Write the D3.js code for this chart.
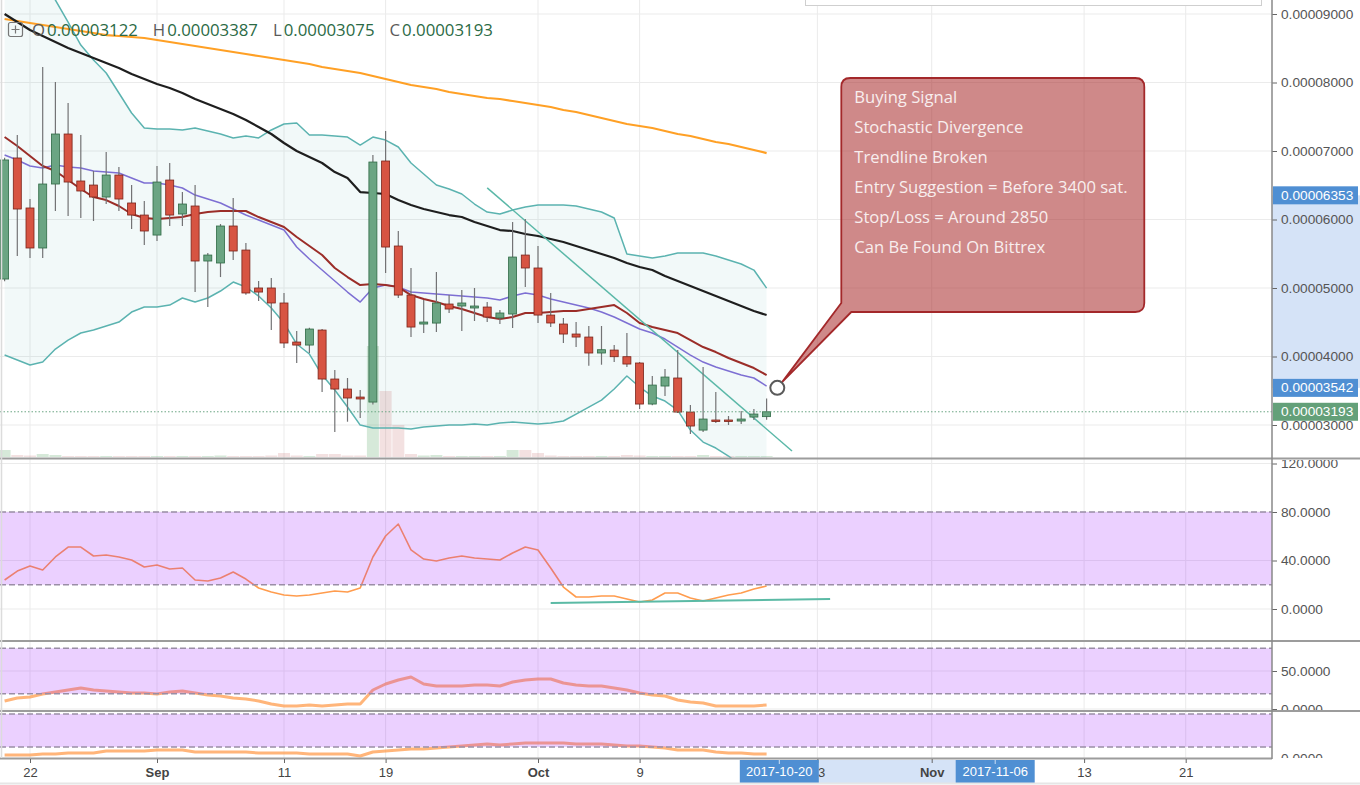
<!DOCTYPE html>
<html><head><meta charset="utf-8">
<script src="https://cdnjs.cloudflare.com/ajax/libs/d3/7.8.5/d3.min.js"></script>
<style>
html,body{margin:0;padding:0;background:#fff;overflow:hidden;}
svg{display:block;}
</style></head>
<body><svg id="chart" width="1360" height="785"></svg>
<script>
// ---------------- DATA (prices in 1e-8 BTC) ----------------
const firstDay = "2017-08-20";
const opens  = [5131,6898,6168,5584,6518,7248,6562,6503,6328,6649,6241,6065,5773,6576,6080,6197,5394,5365,5905,5554,5000,5000,4781,4211,4167,4386,3671,3525,3408,3335,6854,5613,4897,4474,4488,4766,4737,4708,4722,4562,4620,5481,5292,4605,4474,4328,4284,4051,4094,3997,3905,3306,3569,3686,3189,2926,3073,3073,3058,3116,3122];
const highs  = [6900,7234,6299,8226,8007,7701,7233,6708,6985,6766,6503,6270,6781,6825,6401,6503,5511,5934,6314,5657,5102,5146,4927,4372,4420,4400,3802,3686,3510,6941,7292,5832,5292,4824,5233,4897,4970,5000,4795,4678,5963,6007,5613,4927,4562,4503,4445,4445,4167,4343,3920,3715,3817,4094,3291,3846,3481,3131,3204,3233,3387];
const lows   = [5100,5467,5438,5438,6124,6051,6022,5978,6226,6124,5861,5627,5686,5905,5905,4941,4722,5160,5408,4900,4810,4386,4124,3905,4051,3481,2897,3048,3102,3300,5219,4854,4284,4343,4357,4635,4372,4518,4503,4474,4416,5014,4489,4430,4197,4138,3865,3880,3919,3846,3233,3290,3423,3175,2868,2897,3029,3000,3014,3073,3075];
const closes = [6869,6153,5584,6518,7248,6547,6416,6328,6649,6299,6065,5832,6547,6065,6226,5394,5481,5905,5540,4927,4941,4781,4197,4167,4401,3671,3525,3394,3380,6839,5598,4897,4430,4503,4781,4693,4781,4737,4576,4635,5452,5292,4605,4489,4328,4284,4051,4099,3997,3890,3306,3583,3700,3189,2985,3087,3058,3058,3087,3160,3193];
const volumes = [7,2,1.5,3,2,1,1,1,1,1, 1,1,1,1,1,1,1,1.5,1,1, 1,1.5,4,1.5,1,3,3,1.5,1.5,111, 66,32,3,1.5,2,1,1,1,1,1, 7,7,4,1.5,1,1,1,1,1,2, 1.5,1,1,1,1,2,1,1,1,1, 1];
const maLong  = [8927,8898,8869,8839,8810,8781,8752,8723,8693,8679,8664,8650,8620,8591,8562,8533,8504,8474,8445,8416,8387,8358,8328,8299,8270,8226,8197,8168,8139,8095,8051,8007,7963,7934,7905,7861,7832,7803,7774,7759,7730,7701,7672,7642,7598,7569,7525,7482,7438,7394,7365,7336,7292,7248,7219,7175,7131,7102,7058,7014,6970];
const maMid   = [9000,8883,8766,8679,8591,8504,8431,8358,8285,8212,8124,8051,7978,7920,7847,7759,7686,7613,7540,7453,7351,7248,7117,7000,6912,6825,6693,6606,6401,6387,6372,6284,6211,6153,6109,6065,6036,5963,5905,5846,5832,5788,5759,5715,5671,5613,5554,5496,5438,5365,5306,5262,5175,5102,5029,4956,4883,4810,4737,4664,4605];
const bbUpper = [10080,9861,9642,9423,9204,8883,8547,8328,8139,7847,7555,7336,7321,7321,7307,7336,7292,7248,7190,7219,7190,7307,7394,7409,7233,7233,7219,7204,7087,7204,7160,7058,6825,6664,6503,6445,6372,6226,6109,6080,6138,6182,6211,6211,6211,6197,6153,6109,6022,5496,5467,5438,5467,5511,5511,5511,5467,5408,5350,5262,4999];
const bbLower = [4021,3948,3875,3919,4109,4240,4343,4386,4445,4503,4649,4722,4722,4751,4854,4795,4854,4956,5087,5014,4883,4708,4489,4182,4036,3729,3510,3262,2999,2956,2956,2956,2941,2970,2985,2999,2999,3014,2999,3029,3043,3029,3014,3029,3058,3160,3262,3364,3525,3715,3554,3423,3350,3218,2926,2751,2664,2547,2401,2255,2138];
const maFast  = [6941,6868,6781,6752,6795,6766,6752,6708,6693,6679,6606,6533,6533,6503,6460,6357,6299,6241,6153,6065,5992,5919,5846,5598,5423,5262,5102,4941,4795,5000,5043,5014,4941,4927,4912,4897,4883,4868,4854,4824,4883,4927,4897,4839,4795,4751,4708,4649,4576,4489,4401,4343,4255,4138,4021,3919,3846,3788,3729,3686,3569];
const maBasis = [7204,7073,6927,6781,6708,6576,6445,6328,6284,6197,6080,6022,6007,6022,6036,6080,6109,6124,6124,6124,6036,5963,5890,5744,5613,5481,5292,5160,5043,5058,5043,5014,4897,4839,4795,4737,4693,4635,4576,4547,4576,4635,4635,4649,4664,4664,4693,4722,4751,4635,4489,4430,4386,4343,4240,4138,4065,3978,3905,3832,3729];
const stoch1 = [23.9,31.3,35.5,32.2,42.9,51.1,51.1,43.7,44.5,42.9,40.4,34.6,36.3,33.0,33.8,23.9,23.1,25.6,30.5,24.7,17.3,14.0,11.5,10.7,11.5,13.2,14.8,14.0,17.3,42.9,60.2,70.1,48.7,41.2,39.6,42.1,43.7,42.1,41.2,40.4,46.2,51.1,48.7,33.8,18.1,9.9,9.9,10.7,10.7,8.2,5.8,7.4,13.2,13.2,9.1,6.6,9.1,11.5,13.2,16.5,19.0];
const stoch2 = [10.5,14.5,15.8,19.7,22.4,25.0,27.6,25.0,23.7,22.4,21.1,21.1,19.7,22.4,23.7,21.1,18.4,17.1,14.5,13.2,10.5,6.6,3.9,3.9,5.3,3.9,5.3,6.6,6.6,25.0,32.9,38.2,42.1,32.9,30.3,30.3,30.3,31.6,31.6,30.3,35.5,38.2,39.5,39.5,34.2,31.6,30.3,30.3,27.6,25.0,21.1,18.4,17.1,11.8,9.2,7.9,3.9,3.9,3.9,3.9,5.3];
const stoch3 = [5.5,5.5,5.5,7.3,7.3,9.1,9.1,9.1,12.7,12.7,12.7,12.7,14.5,14.5,14.5,10.9,10.9,10.9,10.9,10.9,9.1,9.1,9.1,9.1,7.3,7.3,7.3,7.3,3.6,10.9,12.7,14.5,16.4,16.4,18.2,20.0,21.8,23.6,25.5,23.6,25.5,27.3,27.3,27.3,27.3,25.5,25.5,25.5,23.6,21.8,21.8,20.0,18.2,14.5,14.5,14.5,10.9,9.1,9.1,7.3,7.3];
const priceTicks = [3000,4000,5000,6000,7000,8000,9000];
const stoch1Ticks = [0,40,80,120];
const stoch2Ticks = [0,50];
const stoch3Ticks = [0];
const xTickDates  = ["2017-08-22","2017-09-01","2017-09-11","2017-09-19","2017-10-01","2017-10-09","2017-10-23","2017-11-01","2017-11-13","2017-11-21"];
const xTickLabels = ["22","Sep","11","19","Oct","9","23","Nov","13","21"];
const boldTickLabels = ["Sep","Oct","Nov"];
const priceMarkers = [{v:6353,kind:"blue"},{v:3542,kind:"blue"},{v:3193,kind:"green"}];
const dateMarkers = ["2017-10-20","2017-11-06"];
const trendLine = [{d:"2017-09-27",v:6461},{d:"2017-10-21",v:2620}];
const stochTrend = [{d:"2017-10-02",v:5.0},{d:"2017-10-24",v:8.3}];
const calloutAnchor = {d:"2017-10-20", v:3542};
const calloutLines = ["Buying Signal","Stochastic Divergence","Trendline Broken","Entry Suggestion = Before 3400 sat.","Stop/Loss = Around 2850","Can Be Found On Bittrex"];
const ohlcLegend = [["O","0.00003122"],["H","0.00003387"],["L","0.00003075"],["C","0.00003193"]];

// ---------------- SETUP ----------------
const parse = d3.utcParse("%Y-%m-%d");
const d0 = parse(firstDay);
const dates = opens.map((_,i)=>d3.utcDay.offset(d0,i));
const candles = dates.map((d,i)=>({d, o:opens[i], h:highs[i], l:lows[i], c:closes[i], v:volumes[i]}));

const svg = d3.select("#chart");
const W = 1360, PR = 1272;
const P = {main:[0,458], s1:[460,640], s2:[642,710], s3:[712,758]};

const x = d3.scaleUtc().domain([d0, d3.utcDay.offset(d0,97)]).range([4.6, 4.6+97*12.7]);
const y = d3.scaleLinear().domain([3000,9000]).range([425,14]);
const yVol = d3.scaleLinear().domain([0,111]).range([457,346]);
const y1 = d3.scaleLinear().domain([0,80]).range([609,512]);
const y2 = d3.scaleLinear().domain([0,50]).range([709,671]);
const y3 = d3.scaleLinear().domain([0,80]).range([758,714]);

const defs = svg.append("defs");
function clip(id, x0, y0, w, h){ defs.append("clipPath").attr("id",id).append("rect").attr("x",x0).attr("y",y0).attr("width",w).attr("height",h); }
clip("cMain",0,0,PR,P.main[1]);
clip("cS1",0,P.s1[0],PR,P.s1[1]-P.s1[0]);
clip("cS2",0,P.s2[0],PR,P.s2[1]-P.s2[0]);
clip("cS3",0,P.s3[0],PR,P.s3[1]-P.s3[0]);
clip("aMain",PR,0,W-PR,P.main[1]);
clip("aS1",PR,P.s1[0],W-PR,P.s1[1]-P.s1[0]);
clip("aS2",PR,P.s2[0],W-PR,P.s2[1]-P.s2[0]);
clip("aS3",PR,P.s3[0],W-PR,P.s3[1]-P.s3[0]);

svg.append("rect").attr("width",W).attr("height",785).attr("fill","#fff");

const tickDates = xTickDates.map(parse);
svg.append("g").selectAll("line").data(tickDates).join("line")
  .attr("x1",d=>x(d)).attr("x2",d=>x(d)).attr("y1",0).attr("y2",758)
  .attr("stroke","#ebebeb").attr("stroke-width",1);

function hgrid(scale, ticks, clipId){
  svg.append("g").attr("clip-path",`url(#${clipId})`).selectAll("line").data(ticks).join("line")
   .attr("x1",0).attr("x2",PR).attr("y1",d=>scale(d)).attr("y2",d=>scale(d))
   .attr("stroke","#ebebeb").attr("stroke-width",1.2);
}
hgrid(y, priceTicks, "cMain");
hgrid(y1, stoch1Ticks, "cS1");
hgrid(y2, stoch2Ticks, "cS2");

// ---------------- MAIN PANEL ----------------
const gm = svg.append("g").attr("clip-path","url(#cMain)");
gm.append("path").datum(candles.map((c,i)=>({d:c.d,u:bbUpper[i],l:bbLower[i]})))
  .attr("d", d3.area().x(d=>x(d.d)).y0(d=>y(d.l)).y1(d=>y(d.u)))
  .attr("fill","rgba(70,170,170,0.07)");
const bw = 8;
gm.append("g").selectAll("rect").data(candles).join("rect")
  .attr("x",d=>x(d.d)-6).attr("width",12)
  .attr("y",d=>yVol(d.v)).attr("height",d=>yVol(0)-yVol(d.v))
  .attr("fill",d=>d.c>=d.o?"rgba(107,175,120,0.28)":"rgba(200,120,120,0.22)");

function line(arr, scale, color, w, g){
  return g.append("path").datum(arr.map((v,i)=>({d:dates[i],v})))
   .attr("d", d3.line().x(d=>x(d.d)).y(d=>scale(d.v)))
   .attr("fill","none").attr("stroke",color).attr("stroke-width",w).attr("stroke-linejoin","round");
}
line(bbUpper, y, "#5bb3b0", 1.5, gm);
line(bbLower, y, "#5bb3b0", 1.5, gm);
line(maLong, y, "#ffa025", 2.2, gm);
line(maMid, y, "#1e1e1e", 2.2, gm);
line(maFast, y, "#7d6fd3", 1.5, gm);
line(maBasis, y, "#9b2d28", 2, gm);

gm.append("line")
  .attr("x1",x(parse(trendLine[0].d))).attr("y1",y(trendLine[0].v))
  .attr("x2",x(parse(trendLine[1].d))).attr("y2",y(trendLine[1].v))
  .attr("stroke","#5bb8a8").attr("stroke-width",1.5);

const cg = gm.append("g");
cg.selectAll("line").data(candles).join("line")
  .attr("x1",d=>x(d.d)).attr("x2",d=>x(d.d)).attr("y1",d=>y(d.h)).attr("y2",d=>y(d.l))
  .attr("stroke","#737375").attr("stroke-width",1.2);
cg.selectAll("rect").data(candles).join("rect")
  .attr("x",d=>x(d.d)-bw/2).attr("width",bw)
  .attr("y",d=>y(Math.max(d.o,d.c))).attr("height",d=>Math.max(1.5,Math.abs(y(d.o)-y(d.c))))
  .attr("fill",d=>d.c>=d.o?"#6ba583":"#d75442")
  .attr("stroke",d=>d.c>=d.o?"#2f6a45":"#7a2319").attr("stroke-width",0.8);

gm.append("line").attr("x1",0).attr("x2",PR).attr("y1",y(closes[closes.length-1])).attr("y2",y(closes[closes.length-1]))
  .attr("stroke","#6ba583").attr("stroke-width",1).attr("stroke-dasharray","1.5,2");

// ---------------- STOCH PANELS ----------------
function stochPanel(arr, scale, clipId, w, color, op){
  const g = svg.append("g").attr("clip-path",`url(#${clipId})`);
  line(arr, scale, color, w, g).attr("stroke-opacity",op);
  g.append("rect").attr("x",0).attr("width",PR).attr("y",scale(80)).attr("height",scale(20)-scale(80))
    .attr("fill","rgba(153,21,255,0.2)");
  [80,20].forEach(v=>g.append("line").attr("x1",0).attr("x2",PR).attr("y1",scale(v)).attr("y2",scale(v))
    .attr("stroke","#9a8ea6").attr("stroke-width",1.4).attr("stroke-dasharray","6,3"));
  return g;
}
const g1 = stochPanel(stoch1, y1, "cS1", 1.6, "#ff9c4e", 1);
g1.append("line")
  .attr("x1",x(parse(stochTrend[0].d))).attr("y1",y1(stochTrend[0].v))
  .attr("x2",x(parse(stochTrend[1].d))).attr("y2",y1(stochTrend[1].v))
  .attr("stroke","#5bbaa5").attr("stroke-width",2);
stochPanel(stoch2, y2, "cS2", 3, "#ff9c4e", 0.75);
stochPanel(stoch3, y3, "cS3", 3, "#ff9c4e", 0.75);

// ---------------- SEPARATORS & AXES ----------------
const font = "'Liberation Sans', Arial, sans-serif";
svg.append("rect").attr("x",PR).attr("width",W-PR).attr("y",y(6353)).attr("height",y(3542)-y(6353)).attr("fill","#d5e3f7");

function rAxis(scale, ticks, fmt, clipId){
  const outer = svg.append("g").attr("clip-path",`url(#${clipId})`);
  const g = outer.append("g").attr("transform",`translate(${PR},0)`)
    .call(d3.axisRight(scale).tickValues(ticks).tickFormat(fmt).tickSize(5).tickPadding(4));
  g.select(".domain").remove();
  g.selectAll(".tick line").attr("stroke","#666");
  g.selectAll("text").attr("fill","#555").style("font-family",font).style("font-size","13.7px");
}
rAxis(y, priceTicks, d=>(d/1e8).toFixed(8), "aMain");
rAxis(y1, stoch1Ticks, d=>d.toFixed(4), "aS1");
rAxis(y2, stoch2Ticks, d=>d.toFixed(4), "aS2");
rAxis(y3, stoch3Ticks, d=>d.toFixed(4), "aS3");

priceMarkers.forEach(m=>{
  const yy = y(m.v);
  svg.append("rect").attr("x",PR+1).attr("y",yy-9).attr("width",85).attr("height",18)
    .attr("fill",m.kind==="green"?"#64a079":"#4f8fd3");
  svg.append("text").attr("x",PR+9).attr("y",yy+4.5).text((m.v/1e8).toFixed(8))
    .attr("fill","#fff").style("font-family",font).style("font-size","13.7px");
});

[458.5, 641, 711].forEach(yy=>svg.append("line").attr("x1",0).attr("x2",W).attr("y1",yy).attr("y2",yy)
  .attr("stroke","#9c9c9c").attr("stroke-width",2));
svg.append("line").attr("x1",0).attr("x2",PR).attr("y1",758.5).attr("y2",758.5).attr("stroke","#9c9c9c").attr("stroke-width",2);
svg.append("line").attr("x1",PR).attr("x2",PR).attr("y1",0).attr("y2",759).attr("stroke","#888").attr("stroke-width",1.5);
svg.append("line").attr("x1",1.5).attr("x2",1.5).attr("y1",0).attr("y2",758).attr("stroke","#dcdcdc").attr("stroke-width",1.5);

const dm = dateMarkers.map(parse);
svg.append("rect").attr("x",x(dm[0])).attr("width",x(dm[1])-x(dm[0])).attr("y",760).attr("height",23).attr("fill","#d5e3f7");
const xa = svg.append("g").attr("transform","translate(0,759)")
  .call(d3.axisBottom(x).tickValues(tickDates).tickSize(4).tickPadding(5)
        .tickFormat((d,i)=>xTickLabels[i]));
xa.select(".domain").remove();
xa.selectAll(".tick line").attr("stroke","#666");
xa.selectAll("text").attr("fill","#444").style("font-family",font).style("font-size","13px")
  .style("font-weight",(d,i)=>boldTickLabels.includes(xTickLabels[i])?"bold":"normal");
dm.forEach((d,i)=>{
  svg.append("rect").attr("x",x(d)-39.5).attr("y",760).attr("width",79).attr("height",23).attr("fill","#4f8fd3");
  svg.append("line").attr("x1",x(d)).attr("x2",x(d)).attr("y1",760).attr("y2",764).attr("stroke","#cfe0f5");
  svg.append("text").attr("x",x(d)).attr("y",776).attr("text-anchor","middle").text(dateMarkers[i])
    .attr("fill","#fff").style("font-family",font).style("font-size","13px");
});
svg.append("line").attr("x1",0).attr("x2",W).attr("y1",783.5).attr("y2",783.5).attr("stroke","#e6e6e6").attr("stroke-width",2);

// ---------------- ANNOTATIONS ----------------
svg.append("rect").attr("x",805.5).attr("y",-10).attr("width",456).attr("height",15.5).attr("fill","#fff").attr("stroke","#cfcfcf");

const lg = svg.append("g");
lg.append("rect").attr("x",8.5).attr("y",22.5).attr("width",14).attr("height",14).attr("rx",2)
  .attr("fill","none").attr("stroke","#777").attr("stroke-width",1.2);
lg.append("path").attr("d","M15.5,25.5V33.5M11.5,29.5H19.5").attr("stroke","#777").attr("stroke-width",1.2);
const lt = lg.append("text").attr("x",32).attr("y",36).style("font-family","'Open Sans', sans-serif").style("font-size","16.8px");
ohlcLegend.forEach((p,i)=>{
  lt.append("tspan").attr("dx",i===0?0:15).attr("fill","#5a5a5a").text(p[0]);
  lt.append("tspan").attr("dx",2).attr("fill","#2b6a45").text(p[1]);
});

const ax = x(parse(calloutAnchor.d)) - 2, ay = y(calloutAnchor.v);
const L = ax + 64, T = 78, R = L + 303, B = 312, r = 9;
const tipX = ax + 5, tipY = ay - 6;
svg.append("path")
  .attr("d",`M${L+r},${T} H${R-r} Q${R},${T} ${R},${T+r} V${B-r} Q${R},${B} ${R-r},${B} H${L+10} L${tipX},${tipY} L${L},${B-9} V${T+r} Q${L},${T} ${L+r},${T} Z`)
  .attr("fill","rgba(168,40,40,0.55)").attr("stroke","#a3282a").attr("stroke-width",1.8).attr("stroke-linejoin","round");
svg.append("circle").attr("cx",ax).attr("cy",ay).attr("r",7).attr("fill","#fff").attr("stroke","#5a5a5a").attr("stroke-width",2);
svg.append("g").selectAll("text").data(calloutLines).join("text")
  .attr("x",L+13).attr("y",(d,i)=>T+25+i*30).text(d=>d)
  .attr("fill","#f8eeee").style("font-family","'Open Sans', sans-serif").style("font-size","16.6px");
</script>
</body></html>
